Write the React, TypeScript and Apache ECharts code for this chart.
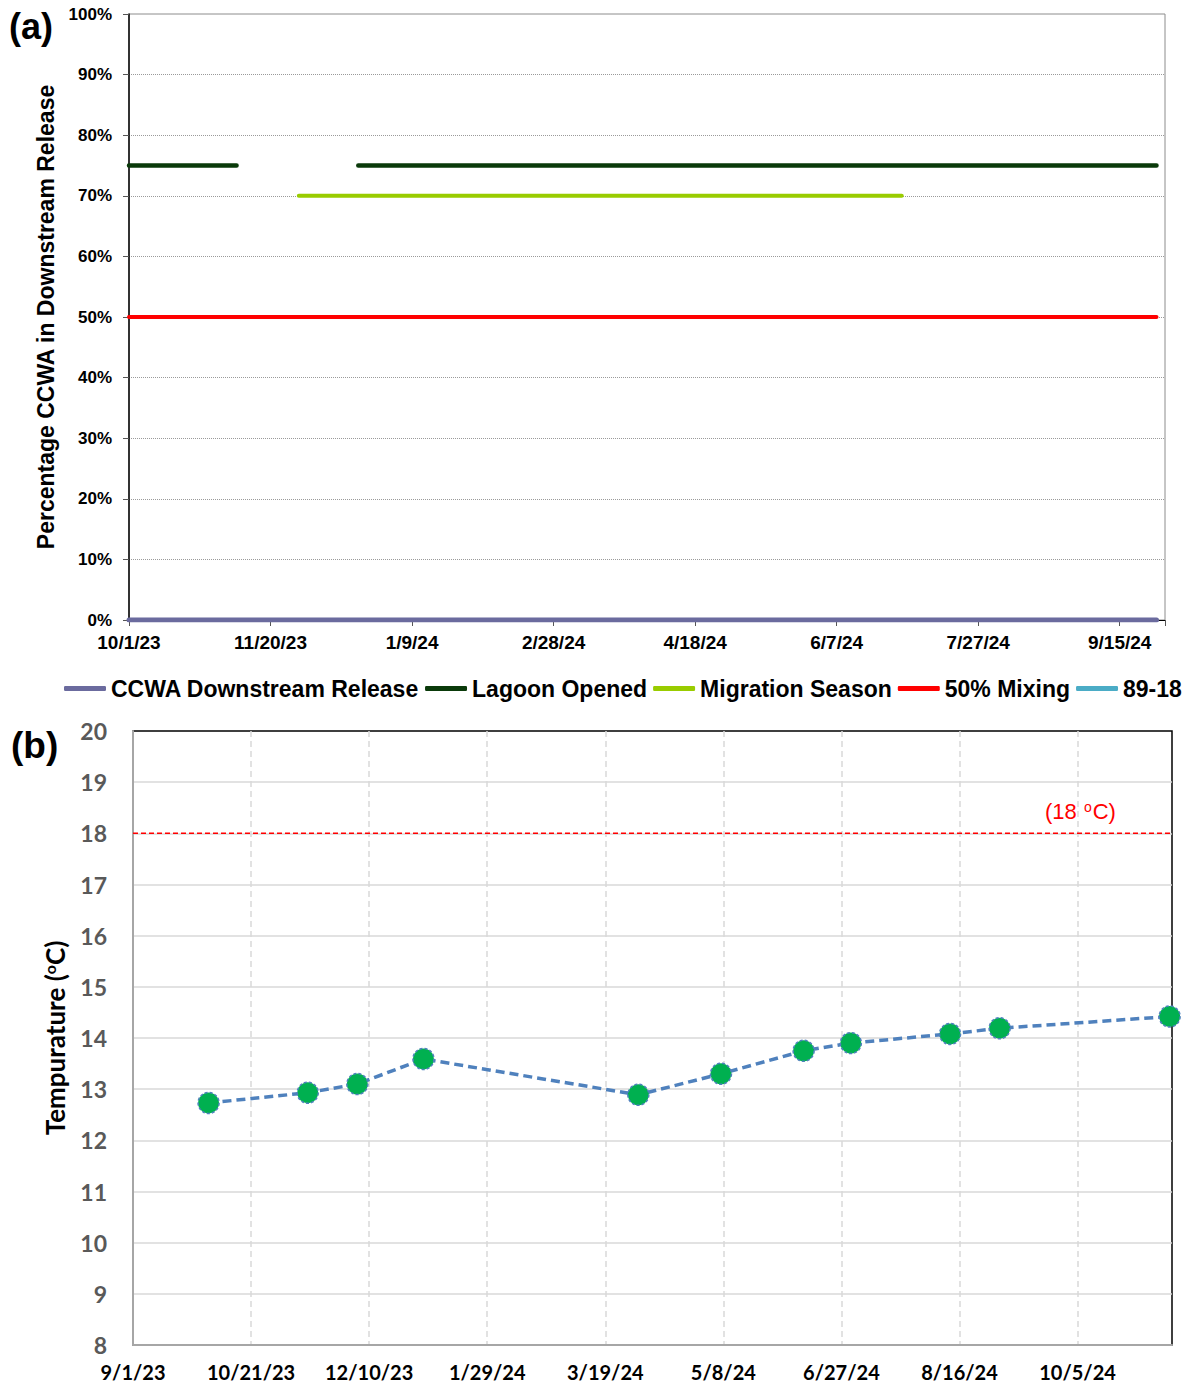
import React, { useEffect, useRef } from "react";
import * as echarts from "echarts";

// ---------- Panel (a) data ----------
const topStartDate = "10/1/23";
const topEndDate = "10/1/24";
const releaseSpan = ["10/1/23", "9/28/24"];
const releasePct = 0;
const lagoonSpans = [
  ["10/1/23", "11/8/23"],
  ["12/21/23", "9/28/24"],
];
const lagoonPct = 0.75;
const migrationSpan = ["11/30/23", "6/30/24"];
const migrationPct = 0.7;
const mixingSpan = ["10/1/23", "9/28/24"];
const mixingPct = 0.5;
const topLegendNames = [
  "CCWA Downstream Release",
  "Lagoon Opened",
  "Migration Season",
  "50% Mixing",
  "89-18",
];

// ---------- Panel (b) data ----------
const botStartDate = "9/1/23";
const botEndDate = "11/14/24";
const sampleDates = [
  "10/3/23",
  "11/14/23",
  "12/5/23",
  "1/2/24",
  "4/2/24",
  "5/7/24",
  "6/11/24",
  "7/1/24",
  "8/12/24",
  "9/2/24",
  "11/13/24",
];
const sampleTemps = [12.73, 12.93, 13.1, 13.59, 12.89, 13.3, 13.75, 13.9, 14.08, 14.19, 14.42];
const thresholdTemp = 18;

const DAY = 86400000;
function parseMDY(s: string): number {
  const [m, d, y] = s.split("/").map(Number);
  return Date.UTC(2000 + y, m - 1, d);
}
function dayOf(s: string, base: string): number {
  return Math.round((parseMDY(s) - parseMDY(base)) / DAY);
}
function fmtDay(v: number, base: string): string {
  const dt = new Date(parseMDY(base) + v * DAY);
  return `${dt.getUTCMonth() + 1}/${dt.getUTCDate()}/${String(dt.getUTCFullYear()).slice(2)}`;
}

export default function App() {
  const ref = useRef<HTMLDivElement>(null);
  useEffect(() => {
    document.body.style.margin = "0";
    const chart = echarts.init(ref.current!, null, { renderer: "svg" });
    const tMax = dayOf(topEndDate, topStartDate);
    const bMax = dayOf(botEndDate, botStartDate);
    const span = (sp: string[], v: number) => [
      [dayOf(sp[0], topStartDate), v],
      [dayOf(sp[1], topStartDate), v],
    ];
    const lagoonData: any[] = [];
    lagoonSpans.forEach((sp, i) => {
      if (i > 0) {
        const gap =
          (dayOf(lagoonSpans[i - 1][1], topStartDate) + dayOf(sp[0], topStartDate)) / 2;
        lagoonData.push([gap, "-"]);
      }
      lagoonData.push(...span(sp, lagoonPct));
    });
    const arial = "Liberation Sans, Arial, sans-serif";
    const cal = "Lato, Open Sans, sans-serif";
    const topLine = (name: string, color: string, width: number, data: any[]) => ({
      name,
      type: "line",
      xAxisIndex: 0,
      yAxisIndex: 0,
      data,
      showSymbol: false,
      symbol: "none",
      connectNulls: false,
      lineStyle: { color, width, cap: "round" },
      itemStyle: { color },
      z: 3,
    });

    chart.setOption({
      animation: false,
      textStyle: { fontFamily: arial },
      grid: [
        {
          left: 129,
          top: 14,
          width: 1036,
          height: 606,
          show: true,
          borderColor: "#8c8c8c",
          borderWidth: 1,
          backgroundColor: "#fff",
        },
        {
          left: 133,
          top: 731,
          width: 1039,
          height: 614,
          show: true,
          borderColor: "#000",
          borderWidth: 1.5,
          backgroundColor: "#fff",
        },
      ],
      legend: {
        left: 64,
        top: 677,
        width: 1126,
        padding: 0,
        itemWidth: 42,
        itemHeight: 5,
        itemGap: 6,
        icon: "roundRect",
        textStyle: { fontFamily: arial, fontWeight: "bold", fontSize: 23, color: "#000" },
        data: topLegendNames,
      },
      xAxis: [
        {
          type: "value",
          gridIndex: 0,
          min: 0,
          max: tMax,
          interval: 50,
          axisLine: { lineStyle: { color: "#000", width: 1 } },
          axisTick: { show: true, length: 6, lineStyle: { color: "#555" } },
          splitLine: { show: false },
          axisLabel: {
            margin: 13,
            fontSize: 19,
            fontWeight: "bold",
            color: "#000",
            fontFamily: arial,
            formatter: (v: number) => (v % 50 === 0 ? fmtDay(v, topStartDate) : ""),
          },
        },
        {
          type: "value",
          gridIndex: 1,
          min: 0,
          max: bMax,
          interval: 50,
          axisLine: { lineStyle: { color: "#a6a6a6", width: 2 } },
          axisTick: { show: false },
          splitLine: {
            show: true,
            showMinLine: false,
            showMaxLine: false,
            lineStyle: { color: "#d9d9d9", width: 1.5, type: [6, 4] },
          },
          axisLabel: {
            margin: 17,
            fontSize: 20,
            fontWeight: "bold",
            color: "#000",
            fontFamily: cal,
            formatter: (v: number) => (v % 50 === 0 ? fmtDay(v, botStartDate) : ""),
          },
        },
      ],
      yAxis: [
        {
          type: "value",
          gridIndex: 0,
          min: 0,
          max: 1,
          interval: 0.1,
          name: "Percentage CCWA in Downstream Release",
          nameLocation: "middle",
          nameGap: 71,
          nameTextStyle: { fontSize: 23, fontWeight: "bold", color: "#000", fontFamily: arial },
          axisLine: { show: true, lineStyle: { color: "#000", width: 1.5 } },
          axisTick: { show: true, length: 6, lineStyle: { color: "#555" } },
          splitLine: {
            show: true,
            showMinLine: false,
            showMaxLine: false,
            lineStyle: { color: "#9a9a9a", width: 1, type: [1, 1] },
          },
          axisLabel: {
            margin: 17,
            fontSize: 17,
            fontWeight: "bold",
            color: "#000",
            fontFamily: arial,
            formatter: (v: number) => `${Math.round(v * 100)}%`,
          },
        },
        {
          type: "value",
          gridIndex: 1,
          min: 8,
          max: 20,
          interval: 1,
          name: "Tempurature ({sup|o}C)",
          nameLocation: "middle",
          nameGap: 64,
          nameTextStyle: {
            fontSize: 26,
            fontWeight: "bold",
            color: "#000",
            fontFamily: cal,
            rich: {
              sup: {
                fontSize: 16,
                fontWeight: "bold",
                color: "#000",
                fontFamily: cal,
                padding: [0, 0, 12, 0],
              },
            },
          },
          axisLine: { show: true, lineStyle: { color: "#a6a6a6", width: 2 } },
          axisTick: { show: false },
          splitLine: {
            show: true,
            showMinLine: false,
            showMaxLine: false,
            lineStyle: { color: "#d9d9d9", width: 1.5 },
          },
          axisLabel: {
            margin: 26,
            fontSize: 23,
            fontWeight: "bold",
            color: "#595959",
            fontFamily: cal,
          },
        },
      ],
      graphic: [
        {
          type: "text",
          left: 9,
          top: 8,
          style: { text: "(a)", fontSize: 36, fontWeight: "bold", fontFamily: arial, fill: "#000" },
        },
        {
          type: "text",
          left: 11,
          top: 727,
          style: { text: "(b)", fontSize: 37, fontWeight: "bold", fontFamily: arial, fill: "#000" },
        },
        {
          type: "text",
          left: 1045,
          top: 800,
          style: {
            text: "(18 {sup|o}C)",
            fontSize: 22,
            fontFamily: arial,
            fill: "#ff0000",
            rich: {
              sup: { fontSize: 14, fill: "#ff0000", fontFamily: arial, padding: [0, 1, 9, 1] },
            },
          },
        },
      ],
      series: [
        topLine(topLegendNames[0], "#6b6b9e", 5, span(releaseSpan, releasePct)),
        topLine(topLegendNames[1], "#0a3a0a", 4.5, lagoonData),
        topLine(topLegendNames[2], "#99cc00", 4, span(migrationSpan, migrationPct)),
        topLine(topLegendNames[3], "#ff0000", 4, span(mixingSpan, mixingPct)),
        topLine(topLegendNames[4], "#4bacc6", 4, []),
        {
          name: "18C",
          type: "line",
          xAxisIndex: 1,
          yAxisIndex: 1,
          data: [
            [0, thresholdTemp],
            [bMax, thresholdTemp],
          ],
          showSymbol: false,
          symbol: "none",
          lineStyle: { color: "#ff0000", width: 1.5, type: [5, 3] },
          z: 2,
        },
        {
          name: "Temp",
          type: "line",
          xAxisIndex: 1,
          yAxisIndex: 1,
          data: sampleDates.map((d, i) => [dayOf(d, botStartDate), sampleTemps[i]]),
          symbol: "circle",
          symbolSize: 21,
          clip: false,
          lineStyle: { color: "#4f81bd", width: 3.5, type: [9, 5] },
          itemStyle: {
            color: "#00b050",
            borderColor: "#4f81bd",
            borderWidth: 1.5,
            borderType: [3, 2],
          },
          z: 4,
        },
      ],
    });
    return () => chart.dispose();
  }, []);
  return <div ref={ref} style={{ width: 1190, height: 1387 }} />;
}
